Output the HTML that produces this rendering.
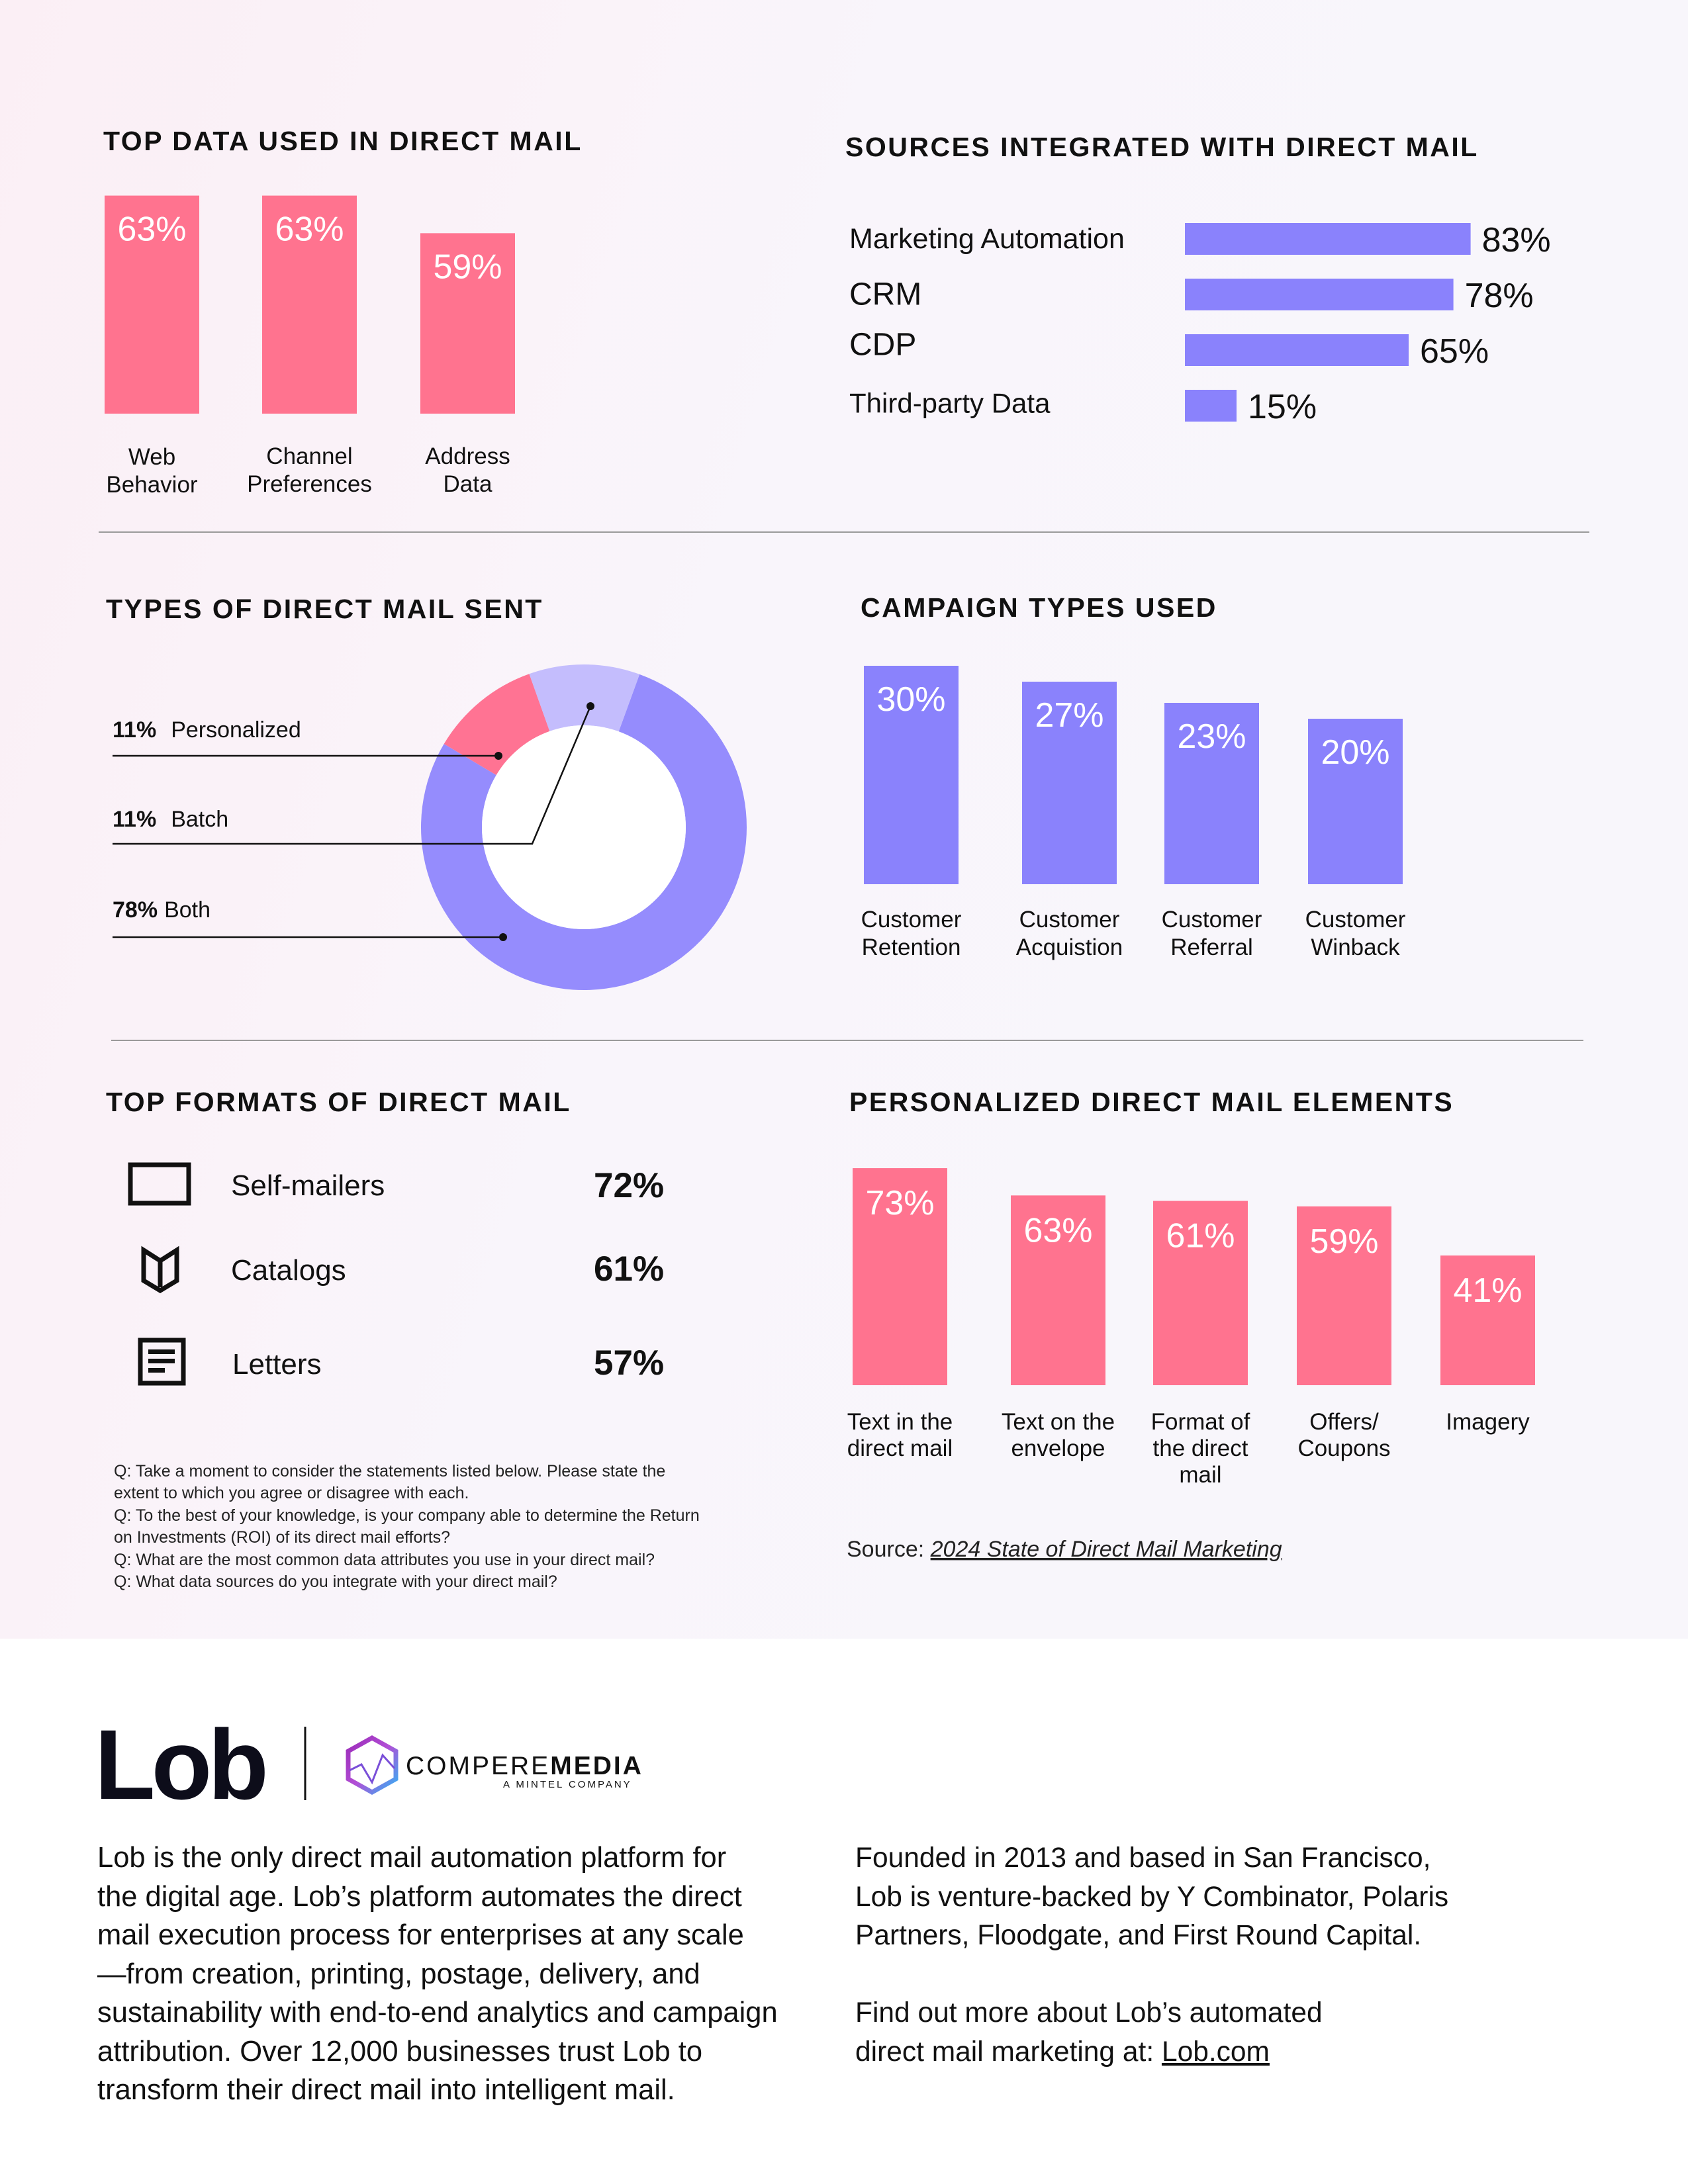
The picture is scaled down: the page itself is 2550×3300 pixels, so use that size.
<!DOCTYPE html>
<html><head><meta charset="utf-8"><title>Direct Mail Infographic</title>
<style>
html,body{margin:0;padding:0;background:#fff;}
svg{display:block;}
text{font-family:"Liberation Sans",sans-serif;}
.t{font-weight:bold;font-size:41px;letter-spacing:2.5px;fill:#111;}
</style></head>
<body>
<svg id="page" width="2550" height="3300" viewBox="0 0 2550 3300" xmlns="http://www.w3.org/2000/svg">
<defs>
<linearGradient id="bg" x1="0" y1="0" x2="1" y2="0.3">
<stop offset="0" stop-color="#fbeff5"/><stop offset="0.5" stop-color="#f9f5fb"/><stop offset="1" stop-color="#f8f6fb"/>
</linearGradient>
<linearGradient id="hexg" x1="0" y1="0" x2="1" y2="1">
<stop offset="0" stop-color="#9b2bb8"/><stop offset="0.5" stop-color="#b24fd6"/><stop offset="1" stop-color="#2fb4f5"/>
</linearGradient>
</defs>
<rect x="0" y="0" width="2550" height="2476" fill="url(#bg)"/>

<text class="t" x="156" y="227">TOP DATA USED IN DIRECT MAIL</text>
<text class="t" x="1277" y="236">SOURCES INTEGRATED WITH DIRECT MAIL</text>
<text class="t" x="160" y="934">TYPES OF DIRECT MAIL SENT</text>
<text class="t" x="1300" y="932">CAMPAIGN TYPES USED</text>
<text class="t" x="160" y="1679">TOP FORMATS OF DIRECT MAIL</text>
<text class="t" x="1283" y="1679">PERSONALIZED DIRECT MAIL ELEMENTS</text>

<line x1="149" y1="804" x2="2401" y2="804" stroke="#9a9a9a" stroke-width="2"/>
<line x1="168" y1="1572" x2="2392" y2="1572" stroke="#9a9a9a" stroke-width="2"/>

<g id="topData"></g>
<g id="sources"></g>
<g id="donut"></g>
<g id="campaign"></g>
<g id="persona"></g>

<g>
<rect x="197" y="1760" width="88" height="58" fill="none" stroke="#111" stroke-width="7"/>
<path d="M217 1889 L242 1905 L267 1889 L267 1935 L242 1950 L217 1935 Z M242 1905 L242 1945" fill="none" stroke="#111" stroke-width="7" stroke-linejoin="miter"/>
<g>
<rect x="212" y="2025" width="65" height="65" fill="none" stroke="#111" stroke-width="7"/>
<rect x="224" y="2039" width="40" height="7" fill="#111"/>
<rect x="224" y="2053" width="40" height="7" fill="#111"/>
<rect x="224" y="2067" width="25" height="7" fill="#111"/>
</g>
<text x="349" y="1806" font-size="44" fill="#111">Self-mailers</text>
<text x="349" y="1934" font-size="44" fill="#111">Catalogs</text>
<text x="351" y="2076" font-size="44" fill="#111">Letters</text>
<text x="897" y="1809" font-size="53" font-weight="bold" fill="#111">72%</text>
<text x="897" y="1935" font-size="53" font-weight="bold" fill="#111">61%</text>
<text x="897" y="2077" font-size="53" font-weight="bold" fill="#111">57%</text>
</g>

<g font-size="25" fill="#222">
<text x="172" y="2231">Q: Take a moment to consider the statements listed below. Please state the</text>
<text x="172" y="2264">extent to which you agree or disagree with each.</text>
<text x="172" y="2298">Q: To the best of your knowledge, is your company able to determine the Return</text>
<text x="172" y="2331">on Investments (ROI) of its direct mail efforts?</text>
<text x="172" y="2365">Q: What are the most common data attributes you use in your direct mail?</text>
<text x="172" y="2398">Q: What data sources do you integrate with your direct mail?</text>
</g>
<text x="1279" y="2352" font-size="34" fill="#222">Source: <tspan font-style="italic" text-decoration="underline">2024 State of Direct Mail Marketing</tspan></text>

<text x="143" y="2718" font-size="150" font-weight="bold" fill="#0d0d1a" letter-spacing="-6">Lob</text>
<line x1="461" y1="2609" x2="461" y2="2720" stroke="#111" stroke-width="3"/>
<g>
<polygon points="562,2626 598,2646 598,2688 562,2708 526,2688 526,2646" fill="none" stroke="url(#hexg)" stroke-width="7"/>
<polyline points="528,2675 546,2666 562,2693 578,2652 596,2672" fill="none" stroke="#7a4fd8" stroke-width="3"/>
<text x="613" y="2681" font-size="39" letter-spacing="3" fill="#111">COMPERE<tspan font-weight="bold">MEDIA</tspan></text>
<text x="760" y="2701" font-size="15" letter-spacing="3" fill="#111">A MINTEL COMPANY</text>
</g>

<g font-size="43.5" fill="#111">
<text x="147" y="2821">Lob is the only direct mail automation platform for</text>
<text x="147" y="2880">the digital age. Lob’s platform automates the direct</text>
<text x="147" y="2938">mail execution process for enterprises at any scale</text>
<text x="147" y="2997">—from creation, printing, postage, delivery, and</text>
<text x="147" y="3055">sustainability with end-to-end analytics and campaign</text>
<text x="147" y="3114">attribution. Over 12,000 businesses trust Lob to</text>
<text x="147" y="3172">transform their direct mail into intelligent mail.</text>
</g>
<g font-size="42.5" fill="#111">
<text x="1292" y="2821">Founded in 2013 and based in San Francisco,</text>
<text x="1292" y="2880">Lob is venture-backed by Y Combinator, Polaris</text>
<text x="1292" y="2938">Partners, Floodgate, and First Round Capital.</text>
<text x="1292" y="3055">Find out more about Lob’s automated</text>
<text x="1292" y="3114">direct mail marketing at: <tspan text-decoration="underline">Lob.com</tspan></text>
</g>
</svg>

<script>
const topDataCats = [["Web","Behavior"],["Channel","Preferences"],["Address","Data"]];
const topDataVals = [63, 63, 59];
const sourceCats = ["Marketing Automation","CRM","CDP","Third-party Data"];
const sourceVals = [83, 78, 65, 15];
const donutCats = ["Both","Personalized","Batch"];
const donutVals = [78, 11, 11];
const campaignCats = [["Customer","Retention"],["Customer","Acquistion"],["Customer","Referral"],["Customer","Winback"]];
const campaignVals = [30, 27, 23, 20];
const personaCats = [["Text in the","direct mail"],["Text on the","envelope"],["Format of","the direct","mail"],["Offers/","Coupons"],["Imagery"]];
const personaVals = [73, 63, 61, 59, 41];

const NS = "http://www.w3.org/2000/svg";
function mk(tag, attrs, parent){
  const e = document.createElementNS(NS, tag);
  for (const k in attrs) e.setAttribute(k, attrs[k]);
  parent.appendChild(e); return e;
}
const PINK = "#ff738f", PURPLE = "#8a82fc";

function vbars(g, cats, vals, xs, bottom, scale, color, valY, labY, labGap, name){
  cats.forEach((c,i)=>{
    const h = scale(vals[i]);
    const r = mk("rect",{x:xs[i],y:bottom-h,width:143,height:h,fill:color},g);
    
    
    const t = mk("text",{x:xs[i]+71.5,y:bottom-h+valY,"text-anchor":"middle","font-size":52,fill:"#fff"},g);
    
    
    t.textContent = vals[i]+"%";
    const l = mk("text",{x:xs[i]+71.5,"text-anchor":"middle","font-size":35,fill:"#111"},g);
    
    
    c.forEach((line,j)=>{ const ts = mk("tspan",{x:xs[i]+71.5,y:labY[i]+j*labGap},l); ts.textContent=line; });
  });
}

vbars(document.getElementById("topData"), topDataCats, topDataVals, [158,396,635], 625,
  v=>(v-39.8)*14.2, PINK, 68, [702,701,701], 42, "top-data");

vbars(document.getElementById("campaign"), campaignCats, campaignVals, [1305,1544,1759,1976], 1336,
  v=>(v+11.25)*8, PURPLE, 68, [1401,1401,1401,1401], 42, "campaign");

vbars(document.getElementById("persona"), personaCats, personaVals, [1288,1527,1742,1959,2176], 2093,
  v=>(v+6.5)*4.125, PINK, 70, [2160,2160,2160,2160,2160], 40, "personalized");

(function(){
  const g = document.getElementById("sources");
  const x0 = 1790, k = 5.2;
  const tops = [337,421,505,589];
  const fs = [43,48,48,42];
  const lyo = [24,24,16,20];
  sourceCats.forEach((c,i)=>{
    const w = sourceVals[i]*k;
    const r = mk("rect",{x:x0,y:tops[i],width:w,height:48,fill:PURPLE},g);
    
    
    const l = mk("text",{x:1283,y:tops[i]+lyo[i],"dominant-baseline":"central","font-size":fs[i],fill:"#111"},g);
    
    
    l.textContent = c;
    const t = mk("text",{x:x0+w+17,y:tops[i]+43,"font-size":52,fill:"#111"},g);
    
    
    t.textContent = sourceVals[i]+"%";
  });
})();

(function(){
  const g = document.getElementById("donut");
  const cx=882, cy=1250, R=246, r=154;
  const colors = ["#958cfd","#ff7393","#c4bdfd"];
  const total = donutVals.reduce((a,b)=>a+b,0);
  let a = 20;
  const pt = (ang,rad)=>[cx+rad*Math.sin(ang*Math.PI/180), cy-rad*Math.cos(ang*Math.PI/180)];
  donutVals.forEach((v,i)=>{
    const sweep = v/total*360, b = a+sweep;
    const large = sweep>180?1:0;
    const [x1,y1]=pt(a,R),[x2,y2]=pt(b,R),[x3,y3]=pt(b,r),[x4,y4]=pt(a,r);
    const p = mk("path",{d:`M${x1} ${y1} A${R} ${R} 0 ${large} 1 ${x2} ${y2} L${x3} ${y3} A${r} ${r} 0 ${large} 0 ${x4} ${y4} Z`,fill:colors[i]},g);
    
    
    a = b;
  });
  mk("circle",{cx:cx,cy:cy,r:r,fill:"#fff"},g);
  const rows = [
    {i:1, ty:1102, ly:1142, dot:[753,1142]},
    {i:2, ty:1237, ly:1275, dot:[892,1067], elbow:[804,1275]},
    {i:0, ty:1374, ly:1416, dot:[760,1416]}
  ];
  rows.forEach(o=>{
    const d = o.elbow ? `M170 ${o.ly} L${o.elbow[0]} ${o.elbow[1]} L${o.dot[0]} ${o.dot[1]}` : `M170 ${o.ly} L${o.dot[0]} ${o.dot[1]}`;
    const ln = mk("path",{d:d,fill:"none",stroke:"#111","stroke-width":2.5},g);
    
    
    mk("circle",{cx:o.dot[0],cy:o.dot[1],r:6,fill:"#111"},g);
    const t = mk("text",{x:170,y:o.ty+12,"font-size":34,fill:"#111"},g);
    
    
    const b = mk("tspan",{"font-weight":"bold"},t); b.textContent = donutVals[o.i]+"%";
    const s = mk("tspan",{dx:o.i===0?10:22},t); s.textContent = donutCats[o.i];
  });
})();
</script>
</body></html>
